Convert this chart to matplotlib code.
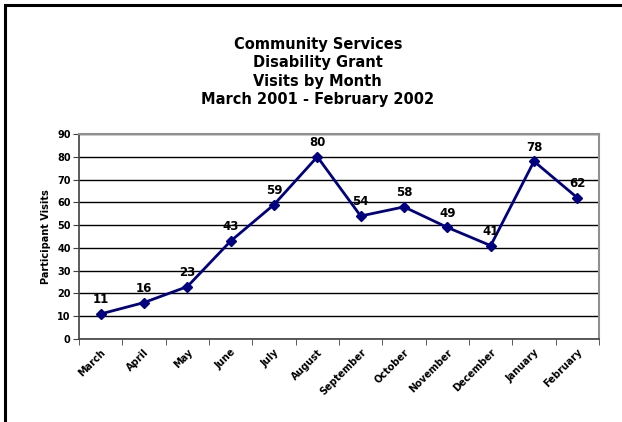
import matplotlib
matplotlib.use("Agg")
import matplotlib.pyplot as plt
from matplotlib.patches import Rectangle
import numpy as np

months = ["March", "April", "May", "June", "July", "August", "September",
          "October", "November", "December", "January", "February"]
visits = [11, 16, 23, 43, 59, 80, 54, 58, 49, 41, 78, 62]
title_lines = ["Community Services", "Disability Grant", "Visits by Month",
               "March 2001 - February 2002"]

NAVY = "#000080"
plt.rcParams["font.family"] = ["DejaVu Sans"]

fig = plt.figure(figsize=(6.22, 4.22), dpi=100)
fig.patch.set_facecolor("white")

# outer chart border (runs off the right and bottom edges)
fig.patches.append(Rectangle((5 / 622, -0.05), 1.2, 1 - 5 / 422 + 0.05,
                             transform=fig.transFigure, fill=False,
                             edgecolor="black", linewidth=2.2))

ax = fig.add_axes([79 / 622, 1 - 339 / 422, 520 / 622, 205 / 422])

x = np.arange(len(months))
ax.plot(x, visits, color=NAVY, linewidth=2, marker="D", markersize=5,
        zorder=3)
for xi, v in zip(x, visits):
    ax.annotate(str(v), (xi, v), xytext=(0, 5.5), textcoords="offset points",
                ha="center", va="bottom", fontsize=8.5, fontweight="bold")

ax.set_xlim(-0.5, len(months) - 0.5)
ax.set_ylim(0, 90)
ax.set_yticks(range(0, 91, 10))
ax.yaxis.grid(True, color="black", linewidth=1)
ax.set_axisbelow(True)

ax.set_xticks(x)
ax.set_xticklabels(months, rotation=45, ha="right", rotation_mode="anchor",
                   fontsize=7, fontweight="bold")
ax.set_xticks(np.arange(-0.5, len(months)), minor=True)
ax.tick_params(axis="x", which="major", length=0, pad=6)
ax.tick_params(axis="x", which="minor", length=4, color="#404040")
ax.tick_params(axis="y", length=4, color="#404040", labelsize=7, pad=2)
for lab in ax.get_yticklabels():
    lab.set_fontweight("bold")

ax.set_ylabel("Participant Visits", fontsize=7, fontweight="bold", labelpad=4)

for side in ["left", "bottom"]:
    ax.spines[side].set_color("#404040")
    ax.spines[side].set_linewidth(1.2)
for side in ["top", "right"]:
    ax.spines[side].set_color("#909090")
    ax.spines[side].set_linewidth(1.5)

fig.text(0.511, 1 - 37 / 422, "\n".join(title_lines), ha="center", va="top",
         fontsize=10.5, fontweight="bold", linespacing=1.28)

fig.savefig("out.png", dpi=100)
